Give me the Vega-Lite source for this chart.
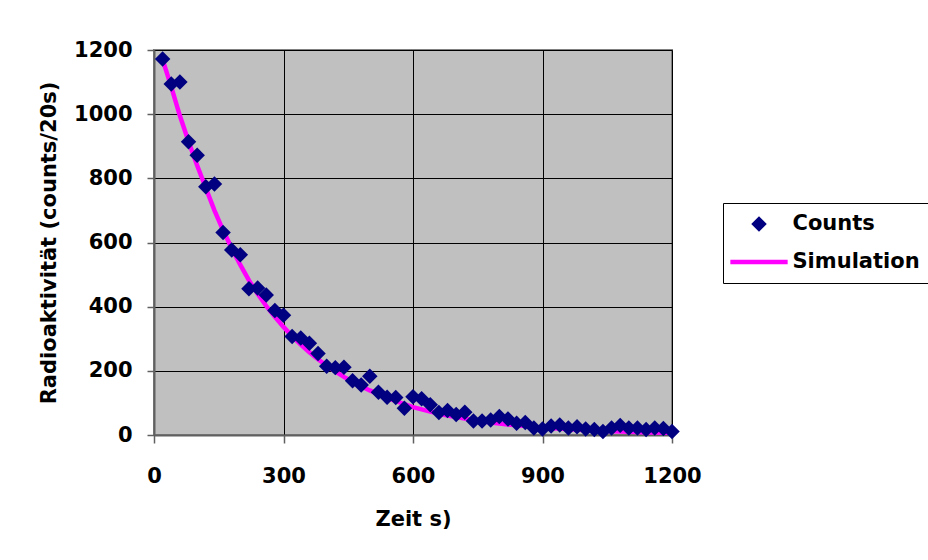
{
  "$schema": "https://vega.github.io/schema/vega-lite/v6.json",
  "autosize": "none",
  "width": 518,
  "height": 385,
  "padding": {"left": 154, "top": 50, "right": 256, "bottom": 125},
  "background": "white",
  "config": {
    "font": "DejaVu Sans",
    "view": {"fill": "#C0C0C0", "stroke": "#808080", "strokeWidth": 2},
    "axis": {
      "labelFont": "DejaVu Sans", "labelFontSize": 21, "labelFontWeight": "bold", "labelColor": "black",
      "titleFont": "DejaVu Sans", "titleFontSize": 21, "titleFontWeight": "bold", "titleColor": "black",
      "gridColor": "black", "gridWidth": 1, "gridOpacity": 1,
      "domainColor": "#606060", "domainWidth": 2,
      "tickColor": "#606060", "tickWidth": 1.5, "tickSize": 8
    },
    "legend": {
      "labelFont": "DejaVu Sans", "labelFontSize": 21, "labelFontWeight": "bold", "labelColor": "black"
    }
  },
  "data": {"values": [
    {"t": 20, "value": 1172, "series": "Counts"},
    {"t": 40, "value": 1094, "series": "Counts"},
    {"t": 60, "value": 1100, "series": "Counts"},
    {"t": 80, "value": 914, "series": "Counts"},
    {"t": 100, "value": 872, "series": "Counts"},
    {"t": 120, "value": 774, "series": "Counts"},
    {"t": 140, "value": 782, "series": "Counts"},
    {"t": 160, "value": 631, "series": "Counts"},
    {"t": 180, "value": 577, "series": "Counts"},
    {"t": 200, "value": 562, "series": "Counts"},
    {"t": 220, "value": 456, "series": "Counts"},
    {"t": 240, "value": 458, "series": "Counts"},
    {"t": 260, "value": 436, "series": "Counts"},
    {"t": 280, "value": 388, "series": "Counts"},
    {"t": 300, "value": 373, "series": "Counts"},
    {"t": 320, "value": 307, "series": "Counts"},
    {"t": 340, "value": 302, "series": "Counts"},
    {"t": 360, "value": 286, "series": "Counts"},
    {"t": 380, "value": 254, "series": "Counts"},
    {"t": 400, "value": 214, "series": "Counts"},
    {"t": 420, "value": 210, "series": "Counts"},
    {"t": 440, "value": 211, "series": "Counts"},
    {"t": 460, "value": 169, "series": "Counts"},
    {"t": 480, "value": 156, "series": "Counts"},
    {"t": 500, "value": 183, "series": "Counts"},
    {"t": 520, "value": 133, "series": "Counts"},
    {"t": 540, "value": 118, "series": "Counts"},
    {"t": 560, "value": 117, "series": "Counts"},
    {"t": 580, "value": 83, "series": "Counts"},
    {"t": 600, "value": 119, "series": "Counts"},
    {"t": 620, "value": 113, "series": "Counts"},
    {"t": 640, "value": 94, "series": "Counts"},
    {"t": 660, "value": 70, "series": "Counts"},
    {"t": 680, "value": 76, "series": "Counts"},
    {"t": 700, "value": 64, "series": "Counts"},
    {"t": 720, "value": 71, "series": "Counts"},
    {"t": 740, "value": 44, "series": "Counts"},
    {"t": 760, "value": 44, "series": "Counts"},
    {"t": 780, "value": 47, "series": "Counts"},
    {"t": 800, "value": 58, "series": "Counts"},
    {"t": 820, "value": 50, "series": "Counts"},
    {"t": 840, "value": 37, "series": "Counts"},
    {"t": 860, "value": 39, "series": "Counts"},
    {"t": 880, "value": 22, "series": "Counts"},
    {"t": 900, "value": 19, "series": "Counts"},
    {"t": 920, "value": 28, "series": "Counts"},
    {"t": 940, "value": 31, "series": "Counts"},
    {"t": 960, "value": 22, "series": "Counts"},
    {"t": 980, "value": 26, "series": "Counts"},
    {"t": 1000, "value": 19, "series": "Counts"},
    {"t": 1020, "value": 17, "series": "Counts"},
    {"t": 1040, "value": 11, "series": "Counts"},
    {"t": 1060, "value": 22, "series": "Counts"},
    {"t": 1080, "value": 30, "series": "Counts"},
    {"t": 1100, "value": 22, "series": "Counts"},
    {"t": 1120, "value": 22, "series": "Counts"},
    {"t": 1140, "value": 17, "series": "Counts"},
    {"t": 1160, "value": 22, "series": "Counts"},
    {"t": 1180, "value": 20, "series": "Counts"},
    {"t": 1200, "value": 11, "series": "Counts"},
    {"t": 20, "value": 1170, "series": "Simulation"},
    {"t": 40, "value": 1085, "series": "Simulation"},
    {"t": 60, "value": 995, "series": "Simulation"},
    {"t": 80, "value": 915, "series": "Simulation"},
    {"t": 100, "value": 840, "series": "Simulation"},
    {"t": 120, "value": 770, "series": "Simulation"},
    {"t": 140, "value": 700, "series": "Simulation"},
    {"t": 160, "value": 638, "series": "Simulation"},
    {"t": 180, "value": 582, "series": "Simulation"},
    {"t": 200, "value": 530, "series": "Simulation"},
    {"t": 220, "value": 482, "series": "Simulation"},
    {"t": 240, "value": 440, "series": "Simulation"},
    {"t": 260, "value": 402, "series": "Simulation"},
    {"t": 280, "value": 368, "series": "Simulation"},
    {"t": 300, "value": 337, "series": "Simulation"},
    {"t": 320, "value": 308, "series": "Simulation"},
    {"t": 340, "value": 282, "series": "Simulation"},
    {"t": 360, "value": 258, "series": "Simulation"},
    {"t": 380, "value": 236, "series": "Simulation"},
    {"t": 400, "value": 216, "series": "Simulation"},
    {"t": 420, "value": 198, "series": "Simulation"},
    {"t": 440, "value": 181, "series": "Simulation"},
    {"t": 460, "value": 166, "series": "Simulation"},
    {"t": 480, "value": 152, "series": "Simulation"},
    {"t": 500, "value": 139, "series": "Simulation"},
    {"t": 520, "value": 127, "series": "Simulation"},
    {"t": 540, "value": 116, "series": "Simulation"},
    {"t": 560, "value": 106, "series": "Simulation"},
    {"t": 580, "value": 96, "series": "Simulation"},
    {"t": 600, "value": 87, "series": "Simulation"},
    {"t": 620, "value": 80, "series": "Simulation"},
    {"t": 640, "value": 73, "series": "Simulation"},
    {"t": 660, "value": 67, "series": "Simulation"},
    {"t": 680, "value": 61, "series": "Simulation"},
    {"t": 700, "value": 56, "series": "Simulation"},
    {"t": 720, "value": 51, "series": "Simulation"},
    {"t": 740, "value": 47, "series": "Simulation"},
    {"t": 760, "value": 43, "series": "Simulation"},
    {"t": 780, "value": 39, "series": "Simulation"},
    {"t": 800, "value": 36, "series": "Simulation"},
    {"t": 820, "value": 33, "series": "Simulation"},
    {"t": 840, "value": 30, "series": "Simulation"},
    {"t": 860, "value": 28, "series": "Simulation"},
    {"t": 880, "value": 25, "series": "Simulation"},
    {"t": 900, "value": 23, "series": "Simulation"},
    {"t": 920, "value": 21, "series": "Simulation"},
    {"t": 940, "value": 20, "series": "Simulation"},
    {"t": 960, "value": 18, "series": "Simulation"},
    {"t": 980, "value": 17, "series": "Simulation"},
    {"t": 1000, "value": 15, "series": "Simulation"},
    {"t": 1020, "value": 14, "series": "Simulation"},
    {"t": 1040, "value": 13, "series": "Simulation"},
    {"t": 1060, "value": 12, "series": "Simulation"},
    {"t": 1080, "value": 11, "series": "Simulation"},
    {"t": 1100, "value": 10, "series": "Simulation"},
    {"t": 1120, "value": 9, "series": "Simulation"},
    {"t": 1140, "value": 8, "series": "Simulation"},
    {"t": 1160, "value": 8, "series": "Simulation"},
    {"t": 1180, "value": 7, "series": "Simulation"},
    {"t": 1200, "value": 7, "series": "Simulation"}
  ]},
  "encoding": {
    "x": {
      "field": "t", "type": "quantitative",
      "scale": {"domain": [0, 1200], "nice": false, "zero": false},
      "axis": {"title": "Zeit s)", "format": "d", "values": [0, 300, 600, 900, 1200], "labelPadding": 22, "titlePadding": 22, "labelFlush": false}
    },
    "y": {
      "field": "value", "type": "quantitative",
      "scale": {"domain": [0, 1200], "nice": false},
      "axis": {"title": "Radioaktivität (counts/20s)", "format": "d", "values": [0, 200, 400, 600, 800, 1000, 1200], "labelPadding": 15, "titlePadding": 14, "labelFlush": false, "tickSize": 7}
    },
    "color": {
      "field": "series", "type": "nominal",
      "scale": {"domain": ["Counts", "Simulation"], "range": ["#000080", "#FF00FF"]},
      "legend": {
        "title": null, "orient": "none", "legendX": 569, "legendY": 153,
        "padding": 10.5, "strokeColor": "black", "fillColor": "white",
        "symbolSize": 240, "symbolStrokeWidth": 0, "symbolOffset": 15, "labelOffset": 23,
        "rowPadding": 16, "symbolOpacity": 1
      }
    }
  },
  "layer": [
    {
      "transform": [{"filter": "datum.series === 'Simulation'"}],
      "mark": {"type": "line", "strokeWidth": 4.5, "clip": false}
    },
    {
      "transform": [{"filter": "datum.series === 'Counts'"}],
      "mark": {"type": "point", "filled": true, "opacity": 1, "size": 240, "clip": false},
      "encoding": {
        "shape": {
          "field": "series", "type": "nominal",
          "scale": {"domain": ["Counts", "Simulation"], "range": ["diamond", "M-3.7,-0.3H3.7V0.3H-3.7Z"]},
          "legend": {
            "title": null, "orient": "none", "legendX": 569, "legendY": 153,
            "padding": 10.5, "strokeColor": "black", "fillColor": "white",
            "symbolSize": 240, "symbolStrokeWidth": 0, "symbolOffset": 15, "labelOffset": 23,
            "rowPadding": 16, "symbolOpacity": 1
          }
        }
      }
    }
  ]
}
